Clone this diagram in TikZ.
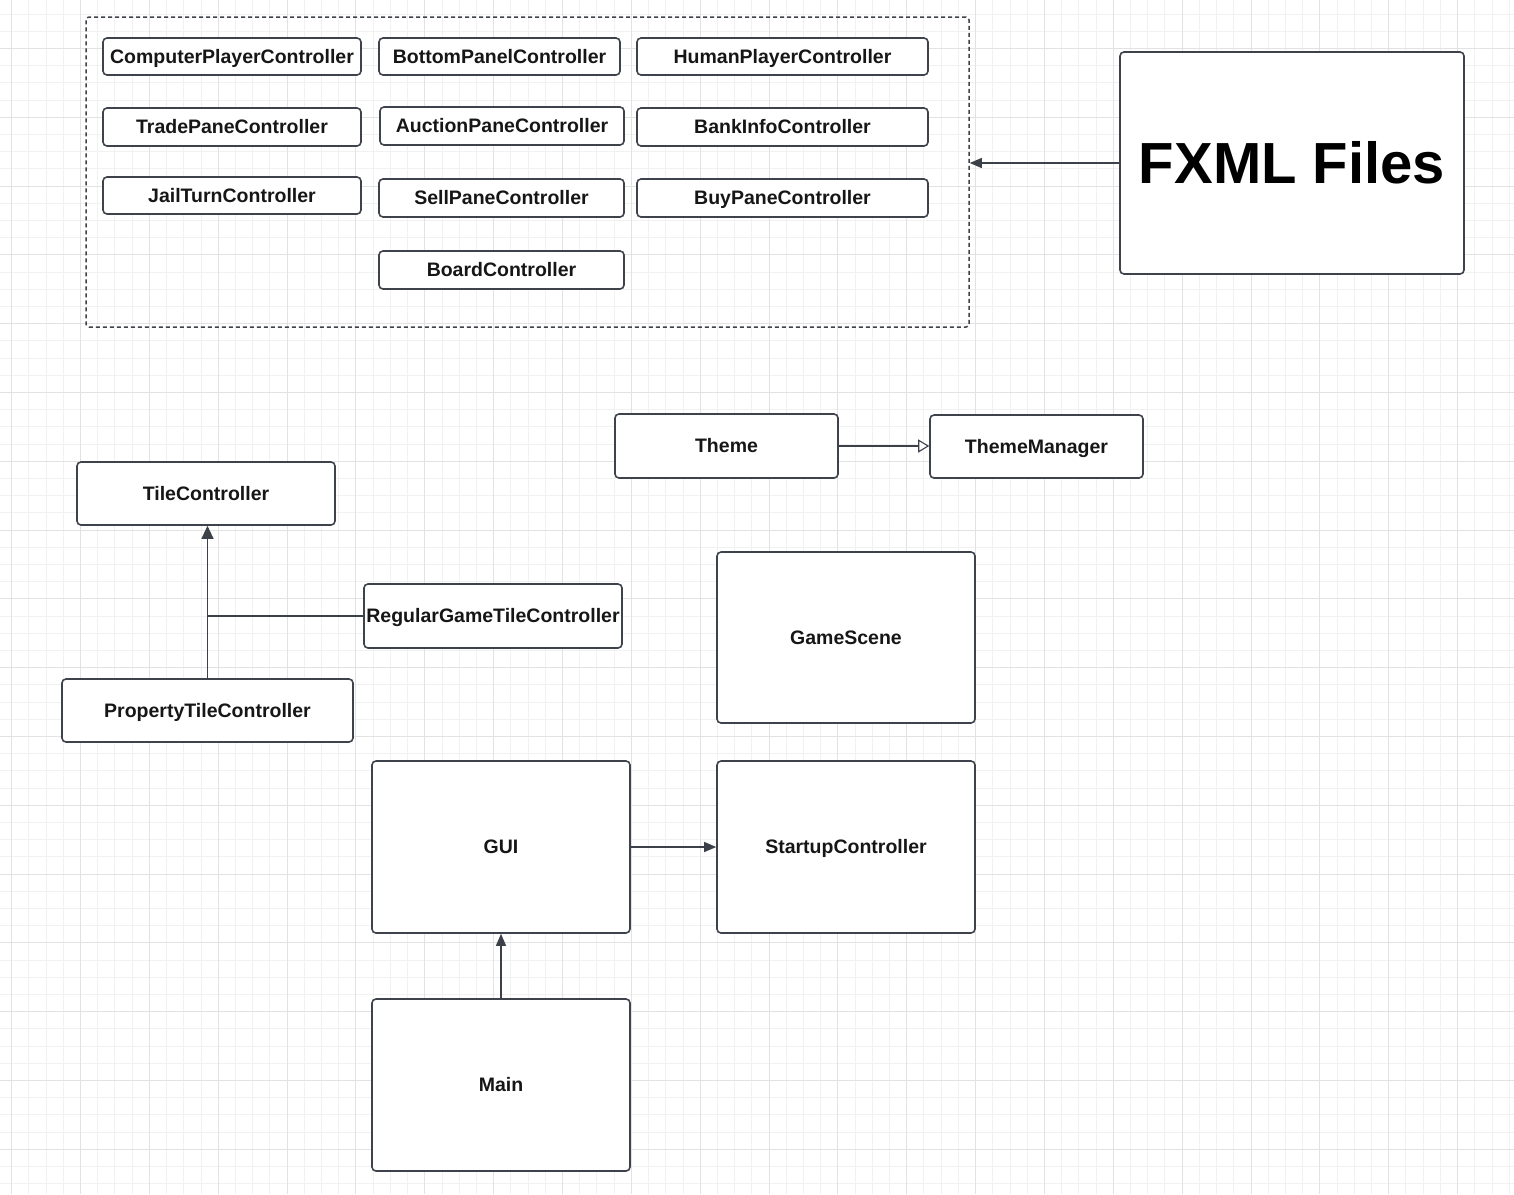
\documentclass[tikz,border=0pt]{standalone}
\usepackage{fontspec}
\setmainfont{Liberation Sans}
\usetikzlibrary{arrows.meta,calc}
\definecolor{minorg}{HTML}{F1F1F1}
\definecolor{majorg}{HTML}{E2E2E2}
\definecolor{edge}{HTML}{3E424A}
\definecolor{ink}{HTML}{161616}
\definecolor{wire}{HTML}{3C4048}
\tikzset{
  box/.style={draw=edge, line width=1.6pt, rounded corners=4pt, fill=white,
    text=ink, inner sep=1pt, align=center, text height=13.5pt, text depth=0pt,
    font=\fontsize{19.5}{23}\selectfont\bfseries},
  wirel/.style={draw=wire, line width=1.1pt},
  conn/.style={wirel, -{Triangle[length=12pt,width=10pt]}},
  gridmin/.style={draw=minorg, line width=1pt},
  gridmaj/.style={draw=majorg, line width=1pt}
}
\begin{document}
\begin{tikzpicture}[x=1pt,y=-1pt]
\useasboundingbox (0,0) rectangle (1514,1194);
\fill[white] (0,0) rectangle (1514,1194);
% grid
\foreach \i in {0,...,89} { \draw[gridmin] ({-5.5+17.2125*\i},0) -- ({-5.5+17.2125*\i},1194); }
\foreach \i in {0,...,70} { \draw[gridmin] (0,{-3.1+17.2*\i}) -- (1514,{-3.1+17.2*\i}); }
\foreach \i in {0,...,22} { \draw[gridmaj] ({11.7+68.85*\i},0) -- ({11.7+68.85*\i},1194); }
\foreach \i in {0,...,17} { \draw[gridmaj] (0,{48.5+68.8*\i}) -- (1514,{48.5+68.8*\i}); }
\draw[draw=majorg, line width=1.8pt] (0,942.5) -- (1514,942.5);

% container
\node[draw=edge, line width=1.5pt, dash pattern=on 4pt off 3pt, rounded corners=3pt,
      minimum width=883pt, minimum height=310pt, inner sep=0pt] (ctr) at (527.5,172) {};

\node[box, minimum width=258pt, minimum height=37pt] (cpc) at (232,56.5) {ComputerPlayerController};
\node[box, minimum width=241pt, minimum height=37pt] (bpc) at (499.5,56.5) {BottomPanelController};
\node[box, minimum width=291pt, minimum height=37pt] (hpc) at (782.5,56.5) {HumanPlayerController};
\node[box, minimum width=258pt, minimum height=38pt] (tpc) at (232,127) {TradePaneController};
\node[box, minimum width=244pt, minimum height=38pt] (apc) at (502,126) {AuctionPaneController};
\node[box, minimum width=291pt, minimum height=38pt] (bic) at (782.5,127) {BankInfoController};
\node[box, minimum width=258pt, minimum height=37pt] (jtc) at (232,195.5) {JailTurnController};
\node[box, minimum width=245pt, minimum height=38pt] (spc) at (501.5,198) {SellPaneController};
\node[box, minimum width=291pt, minimum height=38pt] (bypc) at (782.5,198) {BuyPaneController};
\node[box, minimum width=245pt, minimum height=38pt] (boc) at (501.5,270) {BoardController};

\node[box, minimum width=344pt, minimum height=222pt, text height=41.5pt, font=\fontsize{58}{66}\selectfont\bfseries, text=black] (fxml) at (1292,163) {FXML Files};

\node[box, minimum width=223pt, minimum height=64pt] (theme) at (726.5,446) {Theme};
\node[box, minimum width=213pt, minimum height=63pt] (tm) at (1036.5,446.5) {ThemeManager};

\node[box, minimum width=258pt, minimum height=63pt] (tile) at (206,493.5) {TileController};
\node[box, minimum width=258pt, minimum height=64pt] (rgtc) at (493,616) {RegularGameTileController};
\node[box, minimum width=291pt, minimum height=63pt] (ptc) at (207.5,710.5) {PropertyTileController};

\node[box, minimum width=258pt, minimum height=171pt] (gs) at (846,637.5) {GameScene};
\node[box, minimum width=258pt, minimum height=172pt] (gui) at (501,847) {GUI};
\node[box, minimum width=258pt, minimum height=172pt] (suc) at (846,847) {StartupController};
\node[box, minimum width=258pt, minimum height=172pt] (main) at (501,1085) {Main};

% connectors
\draw[conn] (fxml.west) -- (fxml.west -| ctr.east);
\draw[wirel, -{Triangle[open,length=11pt,width=13pt,fill=white]}] (theme.east) -- (theme.east -| tm.west);
\draw[wirel, -{Triangle[length=13pt,width=12pt]}] (ptc.north) -- (ptc.north |- tile.south);
\draw[wirel] (rgtc.west) -- (rgtc.west -| ptc.north);
\draw[conn] (gui.east) -- (suc.west);
\draw[conn] (main.north) -- (gui.south);
\end{tikzpicture}
\end{document}
